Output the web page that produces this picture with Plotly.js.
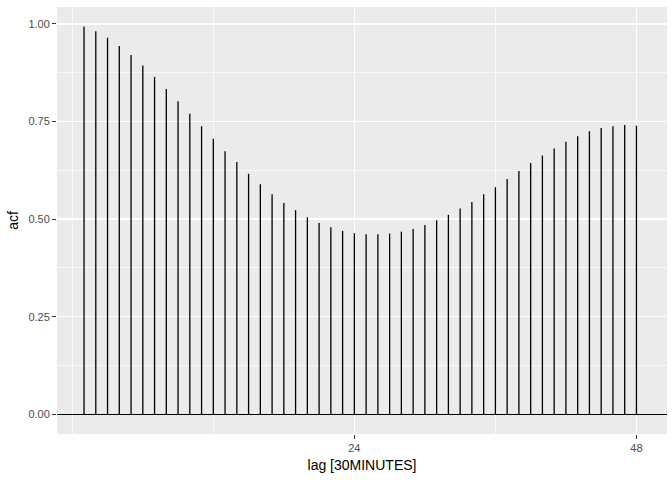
<!DOCTYPE html>
<html>
<head>
<meta charset="utf-8">
<script src="https://cdn.plot.ly/plotly-3.0.1.min.js"></script>
<style>html,body{margin:0;padding:0;background:#fff;}#chart{width:672px;height:480px;}</style>
</head>
<body>
<div id="chart"></div>
<script>
const lags = [1,2,3,4,5,6,7,8,9,10,11,12,13,14,15,16,17,18,19,20,21,22,23,24,
              25,26,27,28,29,30,31,32,33,34,35,36,37,38,39,40,41,42,43,44,45,46,47,48];
const acf = [0.993,0.981,0.964,0.943,0.920,0.893,0.864,0.833,0.802,0.770,0.738,0.706,
             0.674,0.646,0.616,0.589,0.564,0.541,0.523,0.505,0.490,0.479,0.470,0.464,
             0.461,0.461,0.463,0.468,0.475,0.485,0.497,0.511,0.527,0.544,0.564,0.582,
             0.603,0.623,0.644,0.663,0.681,0.698,0.712,0.725,0.733,0.738,0.741,0.739];
const xTickVals = [24, 48];
const xMinorVals = [0, 12, 36];
const yTickVals = [0, 0.25, 0.5, 0.75, 1.0];
const yMinorVals = [0.125, 0.375, 0.625, 0.875];

const sx = [], sy = [];
lags.forEach((l, i) => { sx.push(l, l, null); sy.push(0, acf[i], null); });

const font = 'Liberation Sans, Arial, sans-serif';
const data = [{
  type: 'scatter', mode: 'lines', x: sx, y: sy,
  line: {color: '#000000', width: 1.3}, hoverinfo: 'skip', showlegend: false
}];
const layout = {
  width: 672, height: 480,
  margin: {l: 57, r: 5, t: 7, b: 46},
  paper_bgcolor: '#FFFFFF', plot_bgcolor: '#EBEBEB',
  font: {family: font, color: '#4D4D4D', size: 11},
  showlegend: false,
  xaxis: {
    range: [-1.3, 50.6], tickmode: 'array', tickvals: xTickVals,
    ticks: 'outside', ticklen: 4, tickwidth: 1, tickcolor: '#333333',
    showgrid: true, gridcolor: '#FFFFFF', gridwidth: 1.4,
    minor: {tickmode: 'array', tickvals: xMinorVals, showgrid: true, gridcolor: '#FFFFFF', gridwidth: 0.7, ticks: ''},
    zeroline: false, showline: false,
    tickfont: {family: font, size: 11, color: '#4D4D4D'},
    title: {text: 'lag [30MINUTES]', font: {family: font, size: 14, color: '#000000'}, standoff: 6}
  },
  yaxis: {
    range: [-0.05, 1.043], tickmode: 'array', tickvals: yTickVals, tickformat: '.2f',
    ticks: 'outside', ticklen: 4, tickwidth: 1, tickcolor: '#333333',
    showgrid: true, gridcolor: '#FFFFFF', gridwidth: 1.4,
    minor: {tickmode: 'array', tickvals: yMinorVals, showgrid: true, gridcolor: '#FFFFFF', gridwidth: 0.7, ticks: ''},
    zeroline: true, zerolinecolor: '#000000', zerolinewidth: 1.3,
    showline: false,
    tickfont: {family: font, size: 11, color: '#4D4D4D'},
    title: {text: 'acf', font: {family: font, size: 14, color: '#000000'}, standoff: 6}
  }
};
Plotly.newPlot('chart', data, layout, {displayModeBar: false, staticPlot: true});
</script>
</body>
</html>
